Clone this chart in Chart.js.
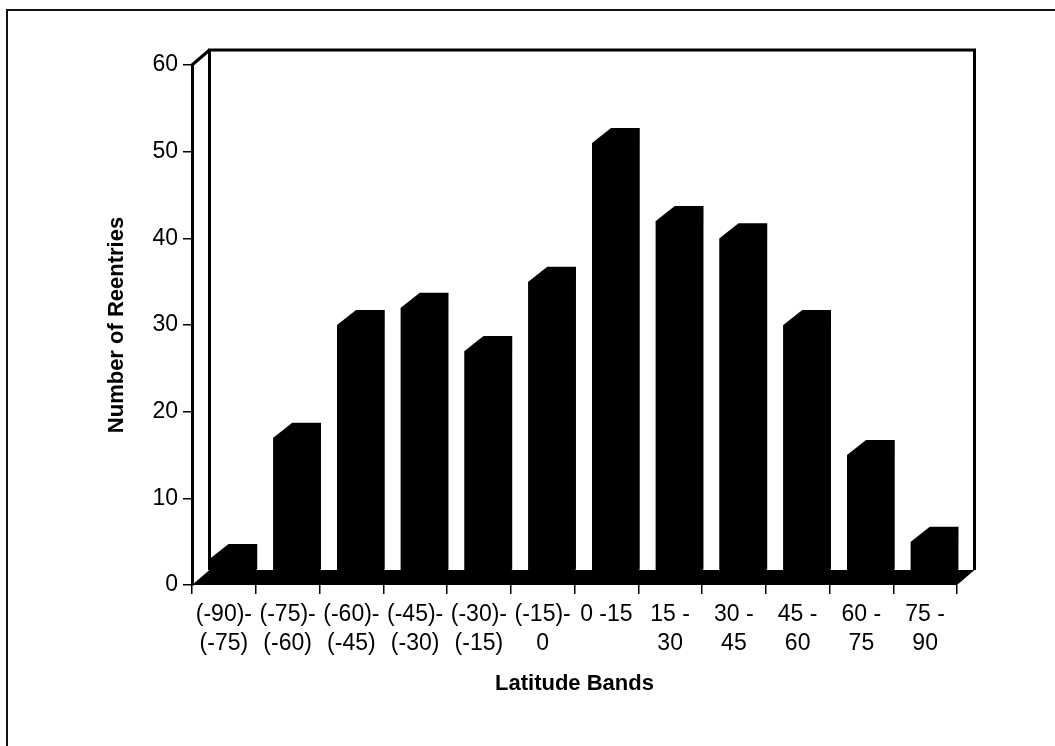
<!DOCTYPE html>
<html>
<head>
<meta charset="utf-8">
<script src="https://cdn.jsdelivr.net/npm/chart.js@4/dist/chart.umd.min.js"></script>
<style>
html,body{margin:0;padding:0;background:#fff;overflow:hidden}
#wrap{width:1055px;height:746px;position:relative}
canvas{display:block}
</style>
</head>
<body>
<div id="wrap"><canvas id="c" width="1055" height="746"></canvas></div>
<script>
// ---- data ----
const categories = [
  ["(-90)-", "(-75)"], ["(-75)-", "(-60)"], ["(-60)-", "(-45)"], ["(-45)-", "(-30)"],
  ["(-30)-", "(-15)"], ["(-15)-", "0"], ["0 -15"], ["15 -", "30"],
  ["30 -", "45"], ["45 -", "60"], ["60 -", "75"], ["75 -", "90"]
];
const reentries = [3, 17, 30, 32, 27, 35, 51, 42, 40, 30, 15, 5];
const yTicks = [0, 10, 20, 30, 40, 50, 60];
const xTitle = "Latitude Bands";
const yTitle = "Number of Reentries";

// ---- styling ----
const FONT = "'Liberation Sans', Arial, Helvetica, sans-serif";
const wallDepth = { dx: 17.5, dy: -15 };
const barDepth = { dx: 19, dy: -15 };

const threeD = {
  id: 'threeD',
  beforeDraw(chart) {
    const ctx = chart.ctx;
    ctx.save();
    ctx.fillStyle = '#fff';
    ctx.fillRect(0, 0, chart.width, chart.height);
    // page frame
    ctx.strokeStyle = '#111';
    ctx.lineWidth = 2;
    ctx.beginPath();
    ctx.moveTo(7, chart.height);
    ctx.lineTo(7, 10);
    ctx.lineTo(chart.width, 10);
    ctx.stroke();
    ctx.restore();
  },
  beforeDatasetsDraw(chart) {
    const ctx = chart.ctx;
    const { left, right, top, bottom } = chart.chartArea;
    const dx = wallDepth.dx, dy = wallDepth.dy;
    ctx.save();
    ctx.strokeStyle = '#000';
    ctx.lineWidth = 3;
    ctx.lineJoin = 'miter';
    // back wall
    ctx.beginPath();
    ctx.moveTo(left + dx, bottom + dy);
    ctx.lineTo(left + dx, top + dy);
    ctx.lineTo(right + dx, top + dy);
    ctx.lineTo(right + dx, bottom + dy);
    ctx.stroke();
    // side wall top edge
    ctx.beginPath();
    ctx.moveTo(left, top);
    ctx.lineTo(left + dx, top + dy);
    ctx.stroke();
    // floor
    ctx.fillStyle = '#000';
    ctx.beginPath();
    ctx.moveTo(left, bottom);
    ctx.lineTo(right, bottom);
    ctx.lineTo(right + dx, bottom + dy);
    ctx.lineTo(left + dx, bottom + dy);
    ctx.closePath();
    ctx.fill();
    ctx.restore();
  },
  afterDatasetsDraw(chart) {
    const ctx = chart.ctx;
    const meta = chart.getDatasetMeta(0);
    ctx.save();
    ctx.fillStyle = '#000';
    meta.data.forEach(b => {
      const p = b.getProps(['x', 'y', 'width', 'base'], true);
      const l = p.x - p.width / 2, r = p.x + p.width / 2;
      ctx.beginPath();
      ctx.moveTo(l, p.base);
      ctx.lineTo(l, p.y);
      ctx.lineTo(l + barDepth.dx, p.y + barDepth.dy);
      ctx.lineTo(r + barDepth.dx, p.y + barDepth.dy);
      ctx.lineTo(r + barDepth.dx, p.base + barDepth.dy);
      ctx.lineTo(r, p.base);
      ctx.closePath();
      ctx.fill();
    });
    ctx.restore();
  }
};

new Chart(document.getElementById('c'), {
  type: 'bar',
  data: {
    labels: categories,
    datasets: [{
      data: reentries,
      backgroundColor: '#000',
      borderWidth: 0,
      barPercentage: 0.45,
      categoryPercentage: 1
    }]
  },
  options: {
    responsive: false,
    animation: false,
    devicePixelRatio: 1,
    layout: { padding: { top: 65, right: 98, left: 0, bottom: 0 } },
    plugins: { legend: { display: false }, tooltip: { enabled: false }, title: { display: false } },
    scales: {
      x: {
        offset: true,
        grid: { offset: true, drawOnChartArea: false, drawTicks: true, tickLength: 9, color: '#000', lineWidth: 1.5 },
        border: { display: false },
        ticks: {
          color: '#000', autoSkip: false, maxRotation: 0, padding: 6,
          font: { family: FONT, size: 23, lineHeight: 1.26 }
        },
        title: {
          display: true, text: xTitle, color: '#000',
          font: { family: FONT, size: 22, weight: 'bold' },
          padding: { top: 0, bottom: 49 }
        },
        afterFit(s) { s.height = 161; }
      },
      y: {
        min: 0, max: 60,
        afterBuildTicks(s) { s.ticks = yTicks.map(v => ({ value: v })); },
        grid: { drawOnChartArea: false, drawTicks: true, tickLength: 9, color: '#000', lineWidth: 1.5 },
        border: { display: true, color: '#000', width: 3 },
        ticks: {
          color: '#000', padding: 5,
          font: { family: FONT, size: 23 }
        },
        title: {
          display: true, text: yTitle, color: '#000',
          font: { family: FONT, size: 22, weight: 'bold' },
          padding: { top: 104, bottom: 0 }
        },
        afterFit(s) { s.width = 192; }
      }
    }
  },
  plugins: [threeD]
});
</script>
</body>
</html>
